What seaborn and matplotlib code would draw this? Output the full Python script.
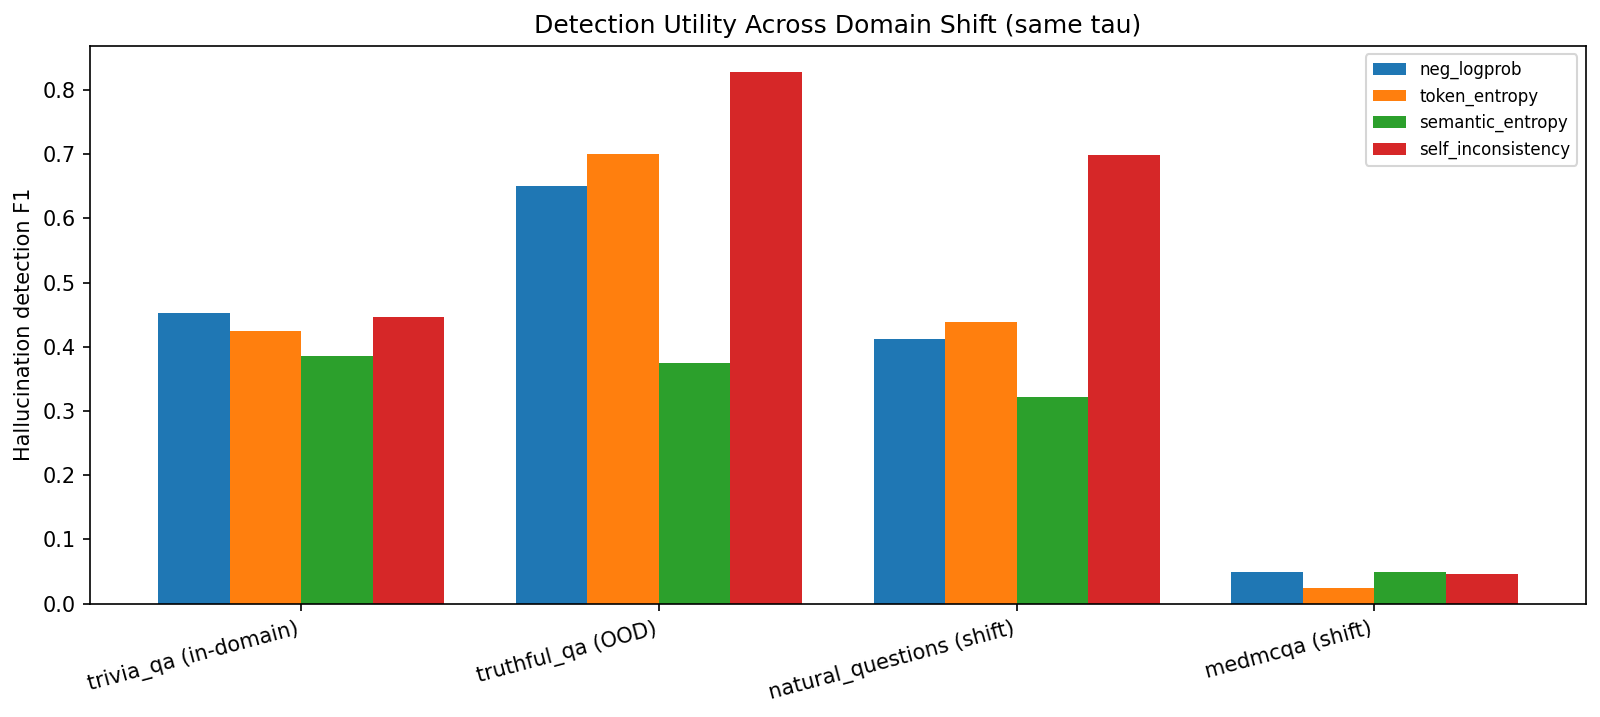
import pandas as pd
import seaborn as sns
import matplotlib
matplotlib.use("Agg")
import matplotlib.pyplot as plt

datasets = ["trivia_qa (in-domain)", "truthful_qa (OOD)",
            "natural_questions (shift)", "medmcqa (shift)"]
methods = ["neg_logprob", "token_entropy", "semantic_entropy", "self_inconsistency"]

neg_logprob = [0.453, 0.650, 0.412, 0.049]
token_entropy = [0.424, 0.700, 0.439, 0.024]
semantic_entropy = [0.385, 0.374, 0.322, 0.049]
self_inconsistency = [0.447, 0.827, 0.698, 0.047]

scores = {
    "neg_logprob": neg_logprob,
    "token_entropy": token_entropy,
    "semantic_entropy": semantic_entropy,
    "self_inconsistency": self_inconsistency,
}

rows = []
for m in methods:
    for d, v in zip(datasets, scores[m]):
        rows.append({"dataset": d, "method": m, "f1": v})
df = pd.DataFrame(rows)

colors = ["#1f77b4", "#ff7f0e", "#2ca02c", "#d62728"]

fig, ax = plt.subplots(figsize=(1600 / 150, 717 / 150), dpi=150)
fig.subplots_adjust(left=0.05625, right=0.991, top=0.936, bottom=0.158)

sns.barplot(data=df, x="dataset", y="f1", hue="method", order=datasets,
            hue_order=methods, palette=colors, width=0.8, linewidth=0,
            saturation=1, ax=ax)

ax.set_xlim(-0.59, 3.59)
ax.set_title("Detection Utility Across Domain Shift (same tau)")
ax.set_ylabel("Hallucination detection F1")
ax.set_xlabel("")
ax.set_xticks(range(len(datasets)))
ax.set_xticklabels(datasets, rotation=15, ha="right")
ax.legend(loc="upper right", fontsize=8)

plt.savefig("out.png", dpi=150)
